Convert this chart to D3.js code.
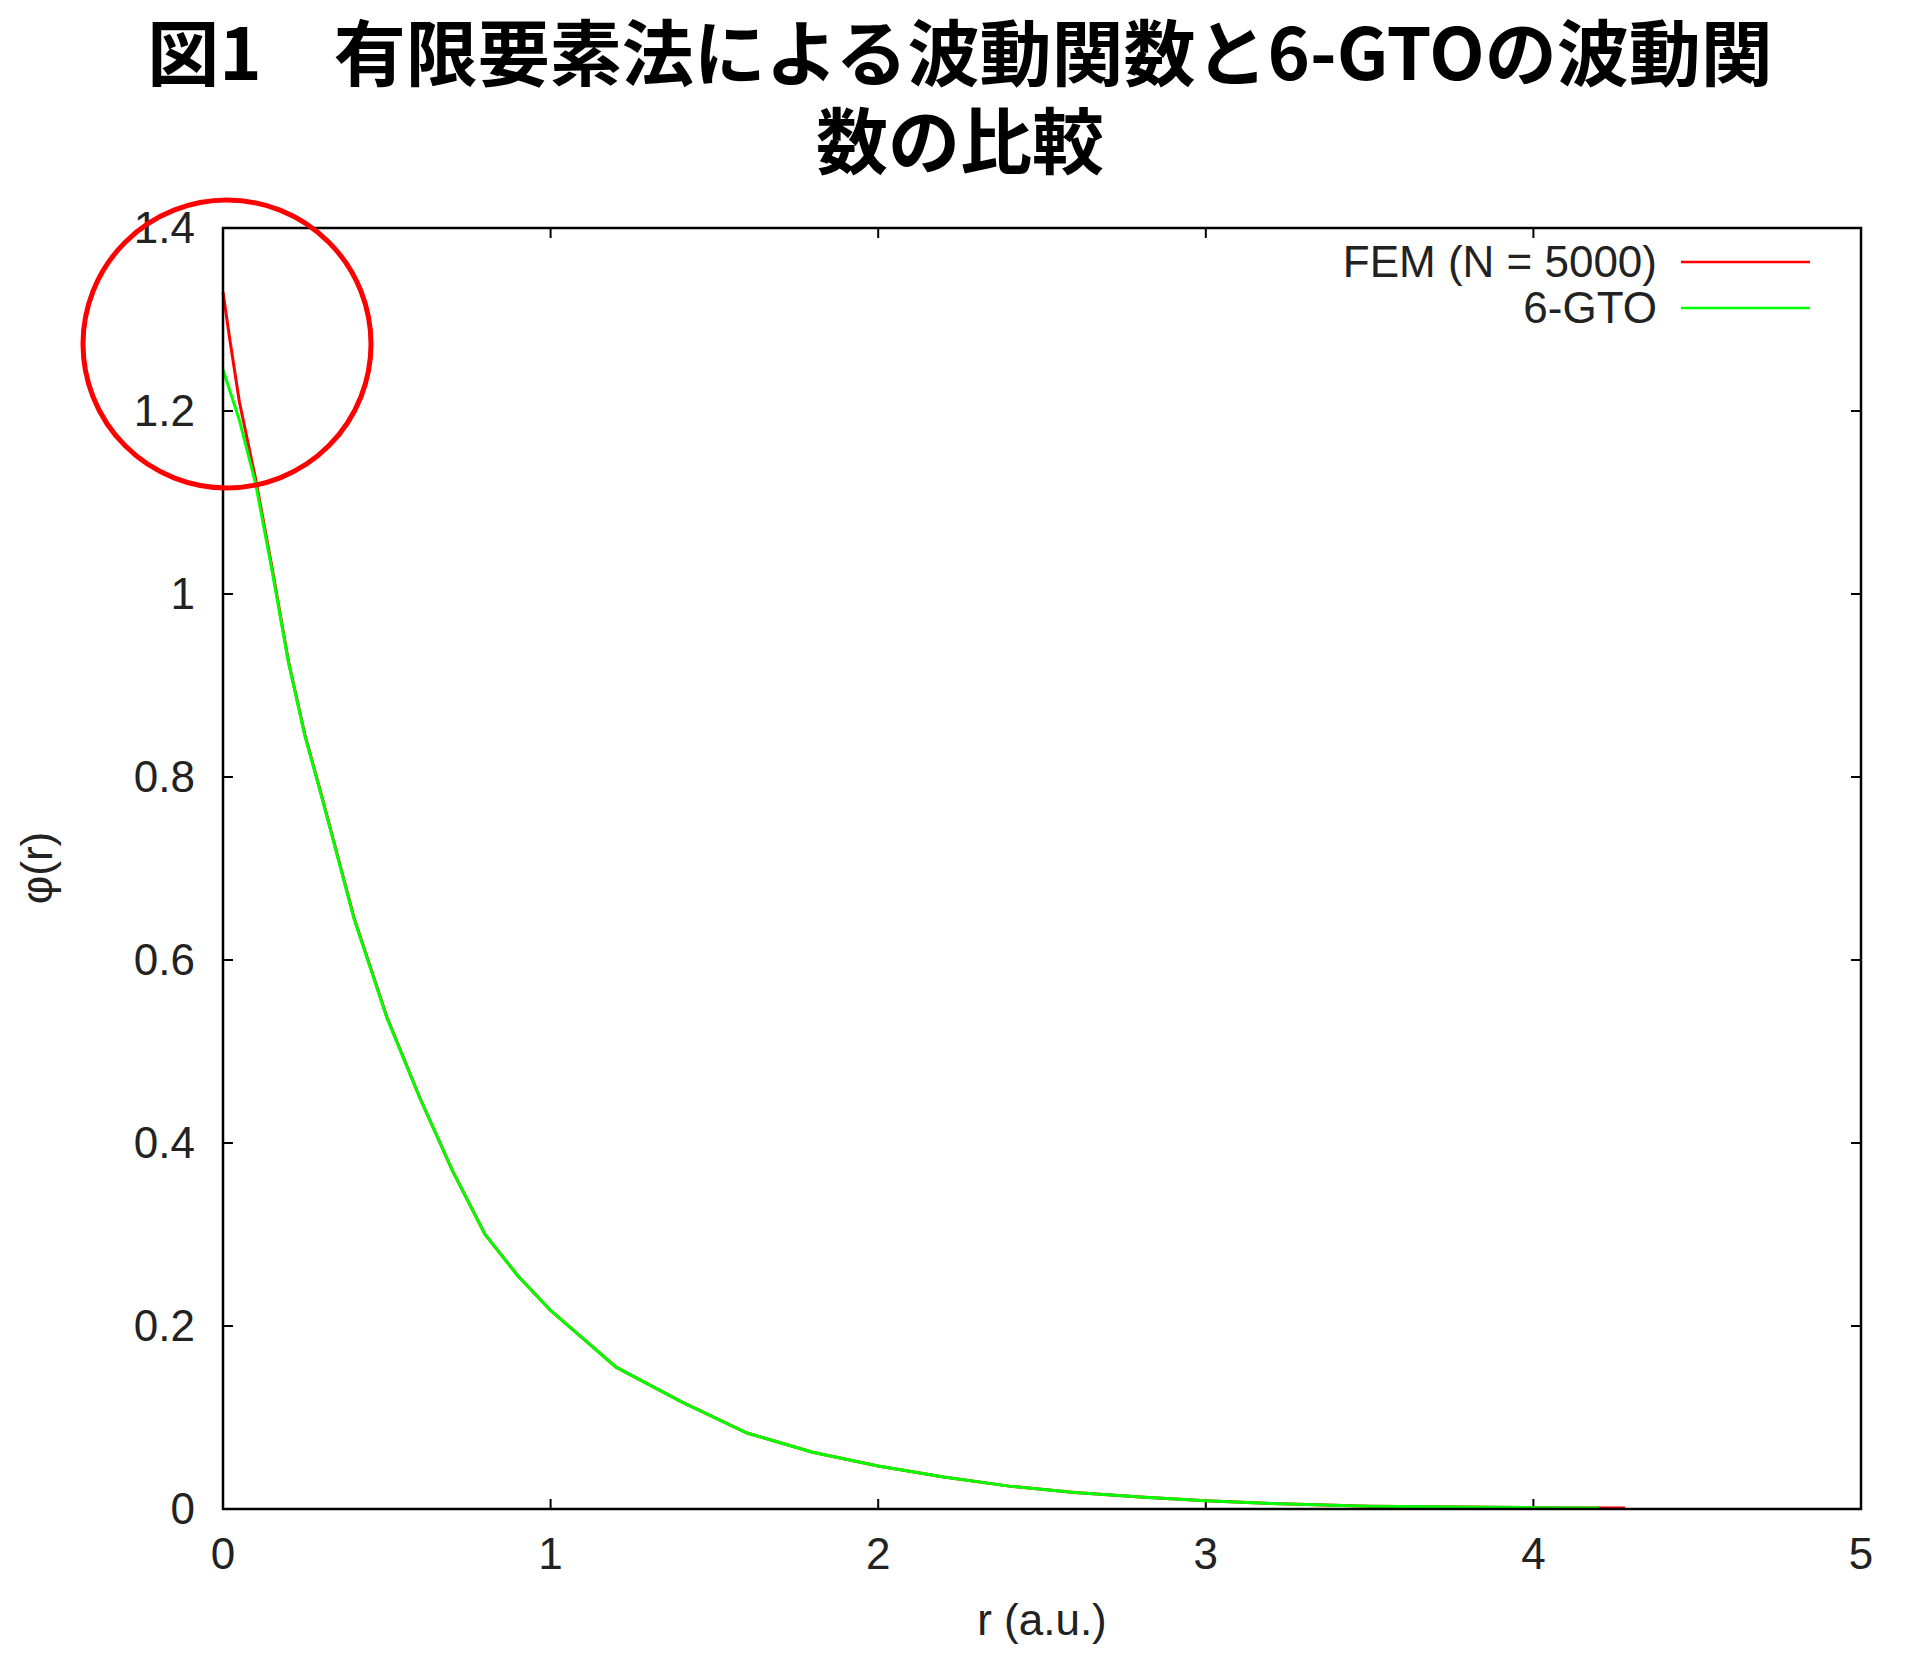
<!DOCTYPE html>
<html><head><meta charset="utf-8">
<script src="https://cdn.jsdelivr.net/npm/d3@7"></script>
<style>body{margin:0;background:#fff}</style></head>
<body><svg id="c" width="1920" height="1659"></svg>
<script>
const titleLines = ["図1　有限要素法による波動関数と6-GTOの波動関", "数の比較"];
const xTicks = [0,1,2,3,4,5];
const yTicks = [0,0.2,0.4,0.6,0.8,1,1.2,1.4];
const gtoR = [0,0.05,0.1,0.15,0.2,0.25,0.3,0.4,0.5,0.6,0.7,0.8,0.9,1.0,1.2,1.4,1.6,1.8,2.0,2.2,2.4,2.6,2.8,3.0,3.2,3.5,4.0,4.2];
const gtoV = [1.245,1.19,1.12,1.025,0.925,0.845,0.78,0.645,0.537,0.45,0.37,0.30,0.255,0.217,0.155,0.117,0.083,0.062,0.047,0.035,0.025,0.018,0.013,0.009,0.006,0.003,0.0015,0.001];
const femR = [0,0.02,0.05,0.1,0.15,0.2,0.25,0.3,0.4,0.5,0.6,0.7,0.8,0.9,1.0,1.2,1.4,1.6,1.8,2.0,2.2,2.4,2.6,2.8,3.0,3.2,3.5,4.0,4.28];
const femV = [1.33,1.28,1.21,1.125,1.028,0.926,0.846,0.781,0.646,0.538,0.45,0.37,0.30,0.255,0.217,0.155,0.117,0.083,0.062,0.047,0.035,0.025,0.018,0.013,0.009,0.006,0.003,0.0015,0.001];

const svg = d3.select("#c");
const L=223,T=228,R=1861,B=1509;
const x = d3.scaleLinear().domain([0,5]).range([L,R]);
const y = d3.scaleLinear().domain([0,1.4]).range([B,T]);
const tf = "'Liberation Sans', Arial, sans-serif";

svg.selectAll(".tt").data(titleLines).enter().append("text")
 .attr("x",960).attr("y",(d,i)=>80+i*88).attr("text-anchor","middle")
 .attr("font-family","'Noto Sans CJK JP'").attr("font-weight","bold").attr("font-size",72).text(d=>d);

const tl=10;
const g=svg.append("g").attr("stroke","#000").attr("stroke-width",2);
xTicks.forEach(t=>{
 g.append("line").attr("x1",x(t)).attr("x2",x(t)).attr("y1",B).attr("y2",B-tl);
 g.append("line").attr("x1",x(t)).attr("x2",x(t)).attr("y1",T).attr("y2",T+tl);
});
yTicks.forEach(t=>{
 g.append("line").attr("x1",L).attr("x2",L+tl).attr("y1",y(t)).attr("y2",y(t));
 g.append("line").attr("x1",R).attr("x2",R-tl).attr("y1",y(t)).attr("y2",y(t));
});
const fs=44;
svg.selectAll(".xl").data(xTicks).enter().append("text").attr("x",d=>x(d)).attr("y",B+60)
 .attr("text-anchor","middle").attr("font-family",tf).attr("font-size",fs).attr("fill","#222").text(d=>d);
svg.selectAll(".yl").data(yTicks).enter().append("text").attr("x",L-28).attr("y",d=>y(d)+15)
 .attr("text-anchor","end").attr("font-family",tf).attr("font-size",fs).attr("fill","#222").text(d=>d);
svg.append("text").attr("x",(L+R)/2).attr("y",1635).attr("text-anchor","middle").attr("font-family",tf).attr("font-size",fs).attr("fill","#222").text("r (a.u.)");
svg.append("text").attr("transform","translate(52,868) rotate(-90)").attr("text-anchor","middle").attr("font-family",tf).attr("font-size",fs).attr("fill","#222").text("φ(r)");

const line=d3.line().x(d=>x(d[0])).y(d=>y(d[1]));
const fem=femR.map((r,i)=>[r,femV[i]]), gto=gtoR.map((r,i)=>[r,gtoV[i]]);
svg.append("path").attr("d",line(fem)).attr("fill","none").attr("stroke","#ff0000").attr("stroke-width",3);
svg.append("path").attr("d",line(gto)).attr("fill","none").attr("stroke","#00ff00").attr("stroke-width",3);

svg.append("rect").attr("x",L).attr("y",T).attr("width",R-L).attr("height",B-T).attr("fill","none").attr("stroke","#000").attr("stroke-width",2.5);

const leg=[["FEM (N = 5000)","#ff0000"],["6-GTO","#00ff00"]];
leg.forEach((d,i)=>{
 const yy=262+i*46;
 svg.append("text").attr("x",1657).attr("y",yy+15).attr("text-anchor","end").attr("font-family",tf).attr("font-size",fs).attr("fill","#222").text(d[0]);
 svg.append("line").attr("x1",1681).attr("x2",1810).attr("y1",yy).attr("y2",yy).attr("stroke",d[1]).attr("stroke-width",2.5);
});
svg.append("circle").attr("cx",227).attr("cy",344).attr("r",144).attr("fill","none").attr("stroke","#ff0000").attr("stroke-width",5);
</script></body></html>
